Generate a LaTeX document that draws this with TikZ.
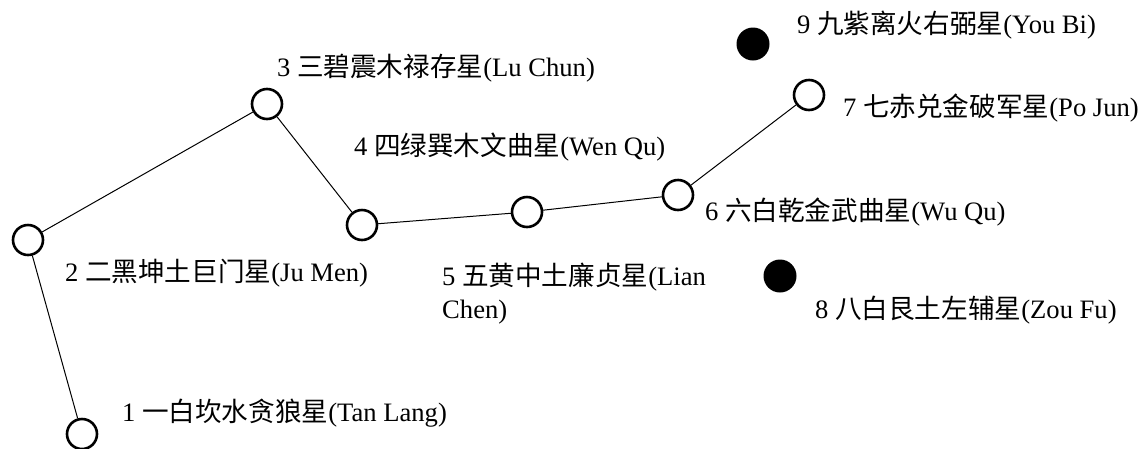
\documentclass[tikz,border=0pt]{standalone}
\usepackage{fontspec}
\setmainfont{Liberation Serif}
\newfontfamily\cjk{Noto Sans CJK SC}
\begin{document}
\begin{tikzpicture}[x=1pt,y=-1pt,
  star/.style={circle,draw,line width=2.6pt,minimum size=30pt,inner sep=0pt,fill=white},
  darkstar/.style={circle,fill=black,minimum size=33pt,inner sep=0pt},
  lbl/.style={anchor=west,inner sep=0pt,font=\fontsize{26.6}{33}\selectfont,align=left},
  link/.style={line width=1pt}]
\useasboundingbox (0,0) rectangle (1147,448);
\node[star] (s1) at (82,434) {};
\node[star] (s2) at (28,240) {};
\node[star] (s3) at (267,104) {};
\node[star] (s4) at (362,225) {};
\node[star] (s5) at (527,212) {};
\node[star] (s6) at (678,195) {};
\node[star] (s7) at (809,95) {};
\node[darkstar] (s8) at (780,276) {};
\node[darkstar] (s9) at (753,44) {};
\draw[link] (s1) -- (s2);
\draw[link] (s2) -- (s3);
\draw[link] (s3) -- (s4);
\draw[link] (s4) -- (s5);
\draw[link] (s5) -- (s6);
\draw[link] (s6) -- (s7);
\node[lbl] (l1) at (122,413) {1 {\cjk 一白坎水贪狼星}(Tan Lang)};
\node[lbl] (l2) at (65,273) {2 {\cjk 二黑坤土巨门星}(Ju Men)};
\node[lbl] (l3) at (277,68) {3 {\cjk 三碧震木禄存星}(Lu Chun)};
\node[lbl] (l4) at (354,147) {4 {\cjk 四绿巽木文曲星}(Wen Qu)};
\node[lbl] (l5) at (442,293.5) {5 {\cjk 五黄中土廉贞星}(Lian\\Chen)};
\node[lbl] (l6) at (705,212) {6 {\cjk 六白乾金武曲星}(Wu Qu)};
\node[lbl] (l7) at (843,108) {7 {\cjk 七赤兑金破军星}(Po Jun)};
\node[lbl] (l8) at (815,310) {8 {\cjk 八白艮土左辅星}(Zou Fu)};
\node[lbl] (l9) at (797,25) {9 {\cjk 九紫离火右弼星}(You Bi)};
\end{tikzpicture}
\end{document}
